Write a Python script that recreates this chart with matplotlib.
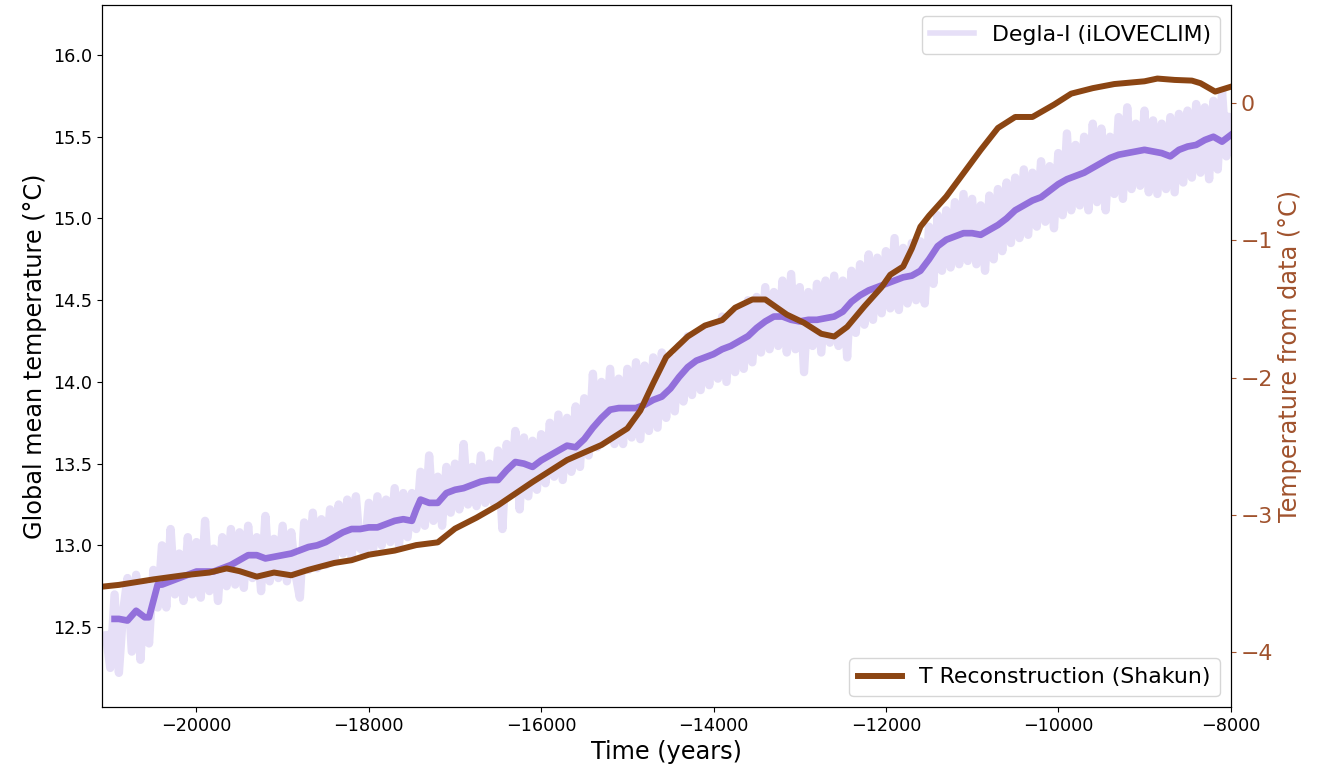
import numpy as np
import matplotlib
matplotlib.use("Agg")
import matplotlib.pyplot as plt
from matplotlib.lines import Line2D

# ---------------- data ----------------
# Degla-I (iLOVECLIM) raw global mean temperature, 50-yr samples from -21050 to -8000
raw_start, raw_end, raw_step = -21050, -8000, 50
raw_temp = [
    12.45, 12.25, 12.70, 12.22, 12.60, 12.80, 12.35, 12.82, 12.30, 12.75,
    12.40, 12.85, 12.62, 13.00, 12.62, 13.10, 12.70, 12.95, 12.66, 13.05,
    12.70, 13.02, 12.68, 13.15, 12.72, 12.98, 12.66, 13.05, 12.75, 13.10,
    12.76, 13.08, 12.74, 13.12, 12.80, 13.05, 12.72, 13.18, 12.78, 13.04,
    12.80, 13.12, 12.78, 13.08, 12.82, 12.68, 13.14, 12.85, 13.20, 12.86,
    13.16, 12.88, 13.22, 12.90, 13.25, 12.95, 13.28, 12.92, 13.30, 12.98,
    12.96, 13.26, 12.98, 13.30, 13.00, 13.28, 13.02, 13.35, 13.00, 13.32,
    13.05, 13.32, 13.10, 13.45, 13.12, 13.55, 13.15, 13.42, 13.12, 13.48,
    13.20, 13.50, 13.22, 13.62, 13.25, 13.48, 13.24, 13.55, 13.26, 13.50,
    13.26, 13.58, 13.10, 13.62, 13.32, 13.70, 13.22, 13.66, 13.30, 13.64,
    13.34, 13.68, 13.38, 13.75, 13.42, 13.80, 13.40, 13.78, 13.45, 13.85,
    13.48, 13.90, 13.55, 14.05, 13.60, 14.00, 13.65, 14.08, 13.62, 14.02,
    13.62, 14.08, 13.66, 14.12, 13.65, 14.10, 13.70, 14.15, 13.72, 14.18,
    13.78, 14.15, 13.82, 14.22, 13.88, 14.28, 13.92, 14.30, 13.95, 14.32,
    13.98, 14.35, 14.02, 14.40, 14.00, 14.42, 14.06, 14.45, 14.08, 14.50,
    14.12, 14.52, 14.18, 14.58, 14.20, 14.55, 14.22, 14.62, 14.18, 14.66,
    14.20, 14.58, 14.06, 14.55, 14.22, 14.60, 14.18, 14.62, 14.24, 14.65,
    14.22, 14.62, 14.15, 14.68, 14.30, 14.72, 14.35, 14.78, 14.38, 14.76,
    14.42, 14.80, 14.45, 14.88, 14.44, 14.82, 14.48, 14.85, 14.50, 14.86,
    14.48, 14.95, 14.60, 15.02, 14.68, 15.05, 14.70, 15.10, 14.72, 15.15,
    14.74, 15.12, 14.72, 15.08, 14.68, 15.14, 14.75, 15.18, 14.80, 15.22,
    14.85, 15.25, 14.88, 15.30, 14.90, 15.28, 14.95, 15.35, 14.98, 15.32,
    14.94, 15.40, 15.02, 15.52, 15.05, 15.45, 15.08, 15.50, 15.05, 15.58,
    15.10, 15.55, 15.05, 15.50, 15.15, 15.62, 15.12, 15.68, 15.18, 15.58,
    15.20, 15.66, 15.16, 15.60, 15.15, 15.58, 15.18, 15.62, 15.16, 15.64,
    15.22, 15.66, 15.25, 15.70, 15.28, 15.68, 15.24, 15.72, 15.30, 15.78,
    15.38, 15.62,
]
raw_years = np.arange(raw_start, raw_end + 1, raw_step)

# Degla-I smoothed (running mean)
smooth_years = [
    -20950, -20900, -20800, -20700, -20600, -20550, -20450, -20400, -20300, -20200,
    -20100, -20000, -19900, -19800, -19700, -19600, -19500, -19400, -19300, -19200,
    -19100, -19000, -18900, -18800, -18700, -18600, -18500, -18400, -18300, -18200,
    -18100, -18000, -17900, -17800, -17700, -17600, -17500, -17450, -17400, -17300,
    -17200, -17100, -17000, -16900, -16800, -16700, -16600, -16500, -16400, -16300,
    -16200, -16100, -16000, -15900, -15800, -15700, -15600, -15500, -15400, -15300,
    -15200, -15100, -15000, -14900, -14800, -14700, -14600, -14500, -14400, -14300,
    -14200, -14100, -14000, -13900, -13800, -13700, -13600, -13500, -13400, -13300,
    -13200, -13100, -13000, -12900, -12800, -12700, -12600, -12500, -12400, -12300,
    -12200, -12100, -12000, -11900, -11800, -11700, -11600, -11500, -11400, -11300,
    -11200, -11100, -11000, -10900, -10800, -10700, -10600, -10500, -10400, -10300,
    -10200, -10100, -10000, -9900, -9800, -9700, -9600, -9500, -9400, -9300,
    -9200, -9100, -9000, -8900, -8800, -8700, -8600, -8500, -8400, -8300,
    -8200, -8100, -8000,
]
smooth_temp = [
    12.55, 12.55, 12.54, 12.60, 12.56, 12.56, 12.76, 12.76, 12.78, 12.80,
    12.82, 12.84, 12.84, 12.84, 12.86, 12.88, 12.91, 12.94, 12.94, 12.92,
    12.93, 12.94, 12.95, 12.97, 12.99, 13.00, 13.02, 13.05, 13.08, 13.10,
    13.10, 13.11, 13.11, 13.13, 13.15, 13.16, 13.15, 13.22, 13.28, 13.26,
    13.26, 13.32, 13.34, 13.35, 13.37, 13.39, 13.40, 13.40, 13.46, 13.51,
    13.50, 13.48, 13.52, 13.55, 13.58, 13.61, 13.60, 13.65, 13.72, 13.78,
    13.83, 13.84, 13.84, 13.84, 13.86, 13.89, 13.91, 13.96, 14.03, 14.09,
    14.13, 14.15, 14.17, 14.20, 14.22, 14.25, 14.28, 14.33, 14.37, 14.40,
    14.40, 14.38, 14.37, 14.38, 14.38, 14.39, 14.40, 14.43, 14.49, 14.53,
    14.56, 14.58, 14.60, 14.62, 14.64, 14.65, 14.68, 14.75, 14.83, 14.87,
    14.89, 14.91, 14.91, 14.90, 14.93, 14.96, 15.00, 15.05, 15.08, 15.11,
    15.13, 15.17, 15.21, 15.24, 15.26, 15.28, 15.31, 15.34, 15.37, 15.39,
    15.40, 15.41, 15.42, 15.41, 15.40, 15.38, 15.42, 15.44, 15.45, 15.48,
    15.50, 15.47, 15.51,
]

# Shakun et al. temperature reconstruction (right axis)
shakun_years = [
    -21200, -20900, -20500, -20150, -19850, -19650, -19500, -19300, -19100, -18900,
    -18700, -18400, -18200, -18000, -17700, -17450, -17200, -17000, -16750, -16500,
    -16100, -15700, -15300, -15000, -14850, -14700, -14550, -14300, -14100, -13900,
    -13750, -13550, -13400, -13150, -12950, -12750, -12600, -12450, -12250, -12050,
    -11950, -11800, -11700, -11600, -11500, -11300, -11100, -10900, -10700, -10500,
    -10300, -10050, -9850, -9600, -9350, -9000, -8850, -8650, -8450, -8350,
    -8180, -8000,
]
shakun_temp = [
    -3.53, -3.51, -3.47, -3.44, -3.42, -3.39, -3.41, -3.45, -3.42, -3.44,
    -3.40, -3.35, -3.33, -3.29, -3.26, -3.22, -3.20, -3.10, -3.02, -2.93,
    -2.76, -2.60, -2.49, -2.37, -2.24, -2.04, -1.85, -1.70, -1.62, -1.58,
    -1.49, -1.43, -1.43, -1.54, -1.60, -1.68, -1.70, -1.63, -1.48, -1.34,
    -1.25, -1.19, -1.06, -0.90, -0.82, -0.68, -0.51, -0.34, -0.18, -0.10,
    -0.10, -0.01, 0.07, 0.11, 0.14, 0.16, 0.18, 0.17, 0.165, 0.146,
    0.085, 0.12,
]

x_label = "Time (years)"
y_label = "Global mean temperature (°C)"
y2_label = "Temperature from data (°C)"
label_degla = "Degla-I (iLOVECLIM)"
label_shakun = "T Reconstruction (Shakun)"

# ---------------- plot ----------------
BROWN = "#8B4513"
BROWN_TEXT = "#a0522d"
PURPLE = "#9370DB"
LAVENDER = "#e6dff7"

fig = plt.figure(figsize=(13.27, 7.70), dpi=100)
ax = fig.add_axes([0.0766, 0.0818, 0.8508, 0.9117])

ax.plot(raw_years, raw_temp, color=LAVENDER, lw=6.0, zorder=1,
        solid_joinstyle="round")
ax.plot(smooth_years, smooth_temp, color=PURPLE, lw=4.8, zorder=2)

ax.set_xlim(-21100, -8000)
ax.set_ylim(12.011, 16.306)
ax.set_yticks([12.5, 13.0, 13.5, 14.0, 14.5, 15.0, 15.5, 16.0])
ax.set_xticks([-20000, -18000, -16000, -14000, -12000, -10000, -8000])
ax.tick_params(labelsize=12.7)
ax.set_xlabel(x_label, fontsize=17.3)
ax.set_ylabel(y_label, fontsize=17.3)
ax.legend([Line2D([], [], color=LAVENDER, lw=4.0)], [label_degla],
          loc="upper right", fontsize=15.8)

ax2 = ax.twinx()
ax2.plot(shakun_years, shakun_temp, color=BROWN, lw=4.3, label=label_shakun)
ax2.set_ylim(-4.40, 0.716)
ax2.set_yticks([-4, -3, -2, -1, 0])
ax2.tick_params(axis="y", labelsize=15.8, colors=BROWN_TEXT)
ax2.spines["right"].set_color("black")
ax2.set_ylabel(y2_label, fontsize=17.3, color=BROWN_TEXT)
ax2.legend(loc="lower right", fontsize=15.8)

fig.savefig("out.png", dpi=100)
